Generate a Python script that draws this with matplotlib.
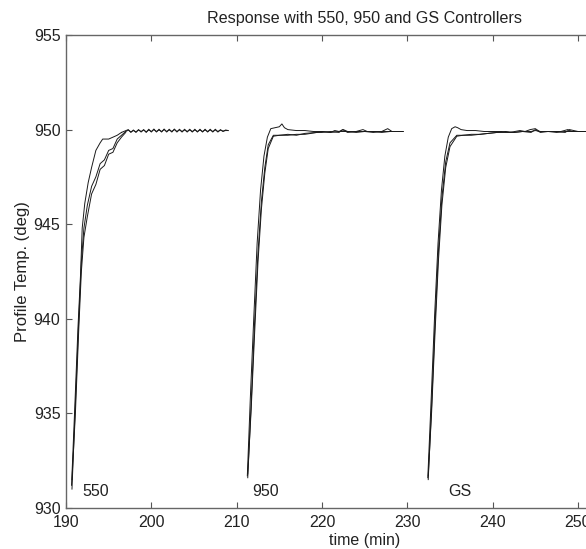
import matplotlib
matplotlib.use("Agg")
import matplotlib.pyplot as plt

# ---- data ----
# 550 controller segment
t550_a = [190.65, 191.0, 191.4, 191.7, 191.9, 192.2, 192.6, 193.0, 193.5, 194.0, 194.3, 195.0, 195.5, 196.0, 196.5]
T550_a = [931.2, 935.0, 939.5, 942.3, 944.8, 946.1, 947.2, 948.0, 948.9, 949.3, 949.5, 949.5, 949.6, 949.7, 949.85]
t550_b = [190.7, 191.1, 191.5, 191.8, 192.1, 192.5, 193.0, 193.5, 194.0, 194.5, 195.0, 195.5, 196.0, 196.5, 197.0]
T550_b = [931.0, 935.5, 940.0, 943.0, 944.8, 946.0, 947.0, 947.5, 948.2, 948.4, 948.9, 949.0, 949.5, 949.7, 949.9]
T550_c = [931.5, 935.0, 939.5, 942.5, 944.3, 945.4, 946.6, 947.1, 947.9, 948.1, 948.7, 948.8, 949.3, 949.6, 949.85]
t550_tail = [197.3, 197.6, 197.9, 198.2, 198.5, 198.8, 199.1, 199.4, 199.7, 200.0, 200.3, 200.6, 200.9,
             201.2, 201.5, 201.8, 202.1, 202.4, 202.7, 203.0, 203.3, 203.6, 203.9, 204.2, 204.5, 204.8,
             205.1, 205.4, 205.7, 206.0, 206.3, 206.6, 206.9, 207.2, 207.5, 207.8, 208.1, 208.4, 208.7, 209.0]
T550_tail1 = [950.0, 949.85, 949.98, 949.85, 950.0, 949.87, 950.0, 949.85, 950.02, 949.87, 950.03, 949.87, 950.02,
              949.87, 950.03, 949.87, 950.02, 949.87, 950.03, 949.87, 950.02, 949.87, 950.02, 949.87, 950.02, 949.87,
              950.02, 949.87, 950.02, 949.87, 950.02, 949.87, 950.02, 949.87, 950.02, 949.87, 950.0, 949.9, 949.98, 949.95]
T550_tail2 = [949.97, 949.88, 949.95, 949.88, 949.98, 949.9, 949.98, 949.88, 949.98, 949.9, 950.0, 949.9, 949.98,
              949.9, 950.0, 949.9, 949.98, 949.9, 950.0, 949.9, 949.98, 949.9, 949.98, 949.9, 949.98, 949.9,
              949.98, 949.9, 949.98, 949.9, 949.98, 949.9, 949.98, 949.9, 949.98, 949.9, 949.97, 949.92, 949.95, 949.95]

# 950 controller segment
t950_a = [211.25, 211.6, 212.0, 212.4, 212.8, 213.2, 213.6, 214.0, 214.5, 215.0, 215.3, 215.6, 216.0, 217.0, 218.0,
          219.0, 220.0, 221.0, 221.5, 222.0, 222.5, 223.0, 224.0, 224.8, 225.3, 226.0, 227.0, 227.7, 228.2, 229.5]
T950_a = [931.7, 935.8, 940.0, 944.0, 946.8, 948.6, 949.6, 950.05, 950.1, 950.15, 950.3, 950.1, 950.0, 949.95, 949.95,
          949.9, 949.9, 949.85, 949.95, 949.9, 950.0, 949.9, 949.9, 950.0, 949.9, 949.9, 949.9, 950.05, 949.9, 949.9]
t950_b = [211.3, 211.7, 212.1, 212.5, 212.9, 213.3, 213.7, 214.3, 215.0, 216.0, 217.0, 218.0, 219.4, 220.0, 221.0,
          222.0, 222.4, 223.0, 224.0, 225.0, 226.0, 227.0, 228.0, 229.5]
T950_b = [931.6, 935.5, 939.8, 943.5, 946.2, 948.0, 949.2, 949.7, 949.7, 949.7, 949.75, 949.75, 949.85, 949.85, 949.9,
          949.85, 950.0, 949.85, 949.9, 949.9, 949.85, 949.9, 949.9, 949.9]
T950_c = [931.8, 935.2, 939.2, 943.0, 945.8, 947.7, 949.0, 949.65, 949.7, 949.75, 949.7, 949.8, 949.85, 949.9, 949.85,
          949.9, 949.9, 949.9, 949.85, 949.9, 949.9, 949.85, 949.9, 949.9]

# GS controller segment
tgs_a = [232.4, 232.8, 233.2, 233.6, 234.0, 234.4, 234.8, 235.2, 235.6, 235.9, 236.3, 237.0, 238.0, 239.0, 240.0,
         241.0, 242.0, 242.6, 243.2, 243.8, 244.4, 245.0, 245.5, 246.0, 247.0, 248.0, 248.8, 249.3, 250.0, 251.0, 252.5]
Tgs_a = [931.6, 935.8, 940.2, 944.0, 946.8, 948.6, 949.6, 950.05, 950.15, 950.1, 950.0, 949.95, 949.95, 949.9, 949.9,
         949.9, 949.85, 949.9, 949.95, 949.9, 950.0, 950.05, 949.9, 949.9, 949.9, 949.9, 950.0, 949.9, 949.9, 949.9, 949.9]
tgs_b = [232.45, 232.85, 233.25, 233.65, 234.05, 234.5, 235.0, 235.8, 236.5, 237.5, 238.5, 239.5, 240.5, 241.5,
         242.5, 243.5, 244.5, 245.0, 245.6, 246.5, 247.5, 248.5, 249.0, 250.0, 251.0, 252.5]
Tgs_b = [931.5, 935.4, 939.8, 943.6, 946.4, 948.3, 949.3, 949.7, 949.7, 949.7, 949.75, 949.8, 949.85, 949.85,
         949.85, 949.9, 949.85, 950.0, 949.85, 949.9, 949.9, 949.85, 950.0, 949.9, 949.9, 949.9]
Tgs_c = [931.7, 935.1, 939.3, 943.1, 946.0, 948.0, 949.1, 949.65, 949.7, 949.75, 949.75, 949.8, 949.85, 949.9,
         949.85, 949.9, 949.9, 949.95, 949.9, 949.9, 949.85, 949.9, 949.9, 949.9, 949.9, 949.9]

seg_labels = ["550", "950", "GS"]
label_x = [191.9, 211.8, 234.8]
label_y = [930.45, 930.45, 930.45]

x_ticks = [190, 200, 210, 220, 230, 240, 250, 260]
y_ticks = [930, 935, 940, 945, 950, 955]

# ---- figure ----
plt.rcParams['font.family'] = ['Liberation Sans', 'DejaVu Sans']
fig = plt.figure(figsize=(5.86, 5.49), dpi=100)
W, H = 586.0, 549.0
ax = fig.add_axes([66 / W, (549 - 508) / H, (8.533 * 70) / W, 473 / H])

lc = '#1a1a1a'
lw = 0.7
ax.plot(t550_a, T550_a, color=lc, lw=lw)
ax.plot(t550_b, T550_b, color=lc, lw=lw)
ax.plot(t550_b, T550_c, color=lc, lw=lw)
ax.plot([t550_a[-1]] + t550_tail, [T550_a[-1]] + T550_tail1, color=lc, lw=lw)
ax.plot([t550_b[-1]] + t550_tail, [T550_b[-1]] + T550_tail2, color=lc, lw=lw)

ax.plot(t950_a, T950_a, color=lc, lw=lw)
ax.plot(t950_b, T950_b, color=lc, lw=lw)
ax.plot(t950_b, T950_c, color=lc, lw=lw)

ax.plot(tgs_a, Tgs_a, color=lc, lw=lw)
ax.plot(tgs_b, Tgs_b, color=lc, lw=lw)
ax.plot(tgs_b, Tgs_c, color=lc, lw=lw)

for s, x, y in zip(seg_labels, label_x, label_y):
    ax.text(x, y, s, fontsize=11.5, ha='left', va='bottom', color='#222222')

ax.set_xlim(190, 260)
ax.set_ylim(930, 955)
ax.set_xticks(x_ticks)
ax.set_yticks(y_ticks)
ax.tick_params(direction='in', length=4, width=0.8, top=True, right=True,
               labelsize=11.5, colors='#555555', labelcolor='#222222')
ax.tick_params(axis='x', pad=5)
ax.tick_params(axis='y', pad=4)
for sp in ax.spines.values():
    sp.set_color('#666666')
    sp.set_linewidth(1.0)

ax.set_title("Response with 550, 950 and GS Controllers", fontsize=11.6, color='#222222', pad=9)
ax.set_xlabel("time (min)", fontsize=11.5, color='#222222', labelpad=2)
ax.set_ylabel("Profile Temp. (deg)", fontsize=12, color='#222222', labelpad=3)

fig.savefig("out.png", dpi=100)
